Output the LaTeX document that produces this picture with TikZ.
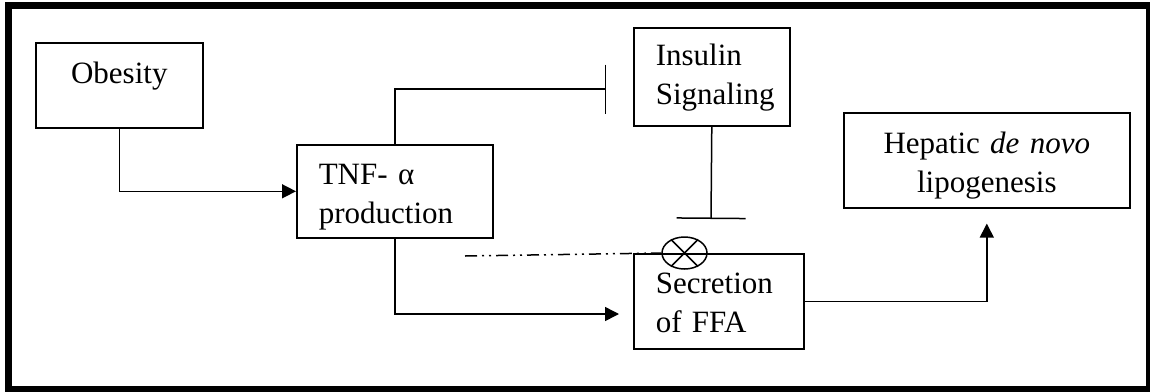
\documentclass[tikz,border=0pt]{standalone}
\usepackage{fontspec}
\setmainfont{Liberation Serif}
\usetikzlibrary{arrows.meta,positioning,shapes.geometric}

\begin{document}
\begin{tikzpicture}[
  x=1pt,y=-1pt,
  box/.style={draw,line width=1.6pt,anchor=north west,inner ysep=0pt,
    font=\fontsize{31}{39}\selectfont,
    execute at begin node={\hyphenpenalty=10000}},
  lbox/.style={box,align=left,inner xsep=22pt},
  cbox/.style={box,align=center,inner xsep=0pt},
  flow/.style={-{Triangle[length=14pt,width=14pt]},line width=1.5pt},
  inhibit/.style={-{Bar[width=#1]},line width=1.5pt},
  mixer/.style={draw,ellipse,line width=1.5pt,inner sep=0pt,
    minimum width=45pt,minimum height=32pt}
]
  \useasboundingbox (0,0) rectangle (1150,391);
  \draw[line width=7pt] (8.5,5.5) rectangle (1149.5,389.5);

  \node[cbox,text width=167pt,text height=41pt,text depth=44pt] (obesity)
    at (35,42) {Obesity};
  \node[lbox,text width=152pt,text height=40pt,text depth=53pt] (tnf)
    at (296,144) {TNF- α\\production};
  \node[lbox,text width=112pt,text height=38pt,text depth=60pt] (insulin)
    at (633,27) {Insulin\\Signaling};
  \node[lbox,text width=126pt,text height=40pt,text depth=55pt] (secr)
    at (633,253) {Secretion\\of FFA};
  \node[cbox,text width=286pt,text height=41pt,text depth=54pt] (hep)
    at (843,112) {Hepatic \textit{de novo}\\lipogenesis};
  \node[mixer] (mix) at (684.5,253) {};
  \draw[line width=1.5pt] (mix.135) -- (mix.-45);
  \draw[line width=1.5pt] (mix.45) -- (mix.-135);

  \coordinate (sigBar) at (606,89);
  \coordinate (mixBar) at (711,219);
  \coordinate (dashStart) at (465,256);
  \coordinate (ffaArrow) at (619,314);

  \draw[flow] (obesity.south) |- (tnf.west);
  \draw[inhibit=49pt] (tnf.north) |- (sigBar);
  \draw[inhibit=69pt] (insulin.south) -- (mixBar);
  \draw[line width=1.5pt,dash pattern=on 12pt off 5pt on 2pt off 5pt on 2pt off 5pt]
    (dashStart) -- (mix.west);
  \draw[flow] (tnf.south) |- (ffaArrow);
  \draw[flow] (secr.east) -| ([yshift=-15pt]hep.south);
\end{tikzpicture}
\end{document}
